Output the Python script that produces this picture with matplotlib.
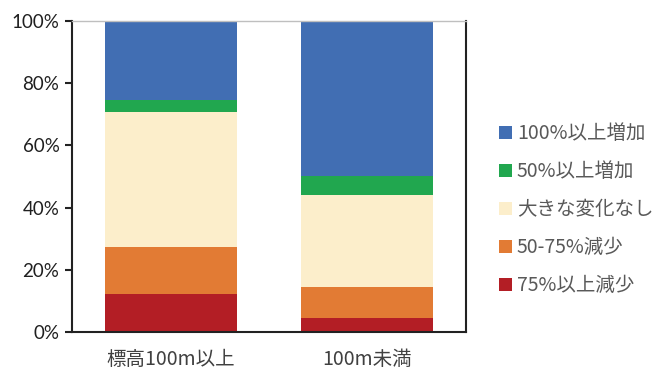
import matplotlib
matplotlib.use("Agg")
import matplotlib.pyplot as plt
from matplotlib.ticker import PercentFormatter

plt.rcParams['font.family'] = ['Noto Sans CJK JP', 'DejaVu Sans']

categories = ["標高100m以上", "100m未満"]
series_names = ["75%以上減少", "50-75%減少", "大きな変化なし", "50%以上増加", "100%以上増加"]
colors = ["#B31E25", "#E27B34", "#FCEECB", "#21A74F", "#416EB3"]

# shares (%) per category, bottom to top
decline_75 = [12.1, 4.6]
decline_50_75 = [15.2, 9.8]
no_change = [43.4, 29.7]
increase_50 = [3.9, 6.1]
increase_100 = [25.4, 49.8]
values = [decline_75, decline_50_75, no_change, increase_50, increase_100]

fig = plt.figure(figsize=(6.6, 3.69), dpi=100)
ax = fig.add_axes([0.109, 0.100, 0.597, 0.844])

x = range(len(categories))
bottom = [0.0] * len(categories)
handles = []
for name, vals, c in zip(series_names, values, colors):
    h = ax.bar(x, vals, width=0.673, bottom=bottom, color=c, label=name)
    handles.append(h)
    bottom = [b + v for b, v in zip(bottom, vals)]

ax.set_xlim(-0.505, 1.505)
ax.set_ylim(0, 100)
ax.set_yticks(range(0, 101, 20))
ax.yaxis.set_major_formatter(PercentFormatter(decimals=0))
for lab in ax.get_yticklabels():
    lab.set_family(['Lato', 'Noto Sans CJK JP'])
ax.set_xticks(list(x))
ax.set_xticklabels(categories)
ax.tick_params(axis='x', length=0, pad=12, labelsize=14, labelcolor='#404040')
ax.tick_params(axis='y', length=5, width=1.5, pad=4, labelsize=13.5,
               labelcolor='#202020', color='#222222')
for side in ['left', 'bottom', 'right']:
    ax.spines[side].set_color('#222222')
    ax.spines[side].set_linewidth(1.5)
ax.spines['top'].set_color('#BFBFBF')
ax.spines['top'].set_linewidth(1.0)

leg = fig.legend(handles[::-1], series_names[::-1], loc='upper left',
                 bbox_to_anchor=(0.745, 0.688), frameon=False, fontsize=14,
                 handlelength=0.65, handleheight=0.65, handletextpad=0.25,
                 labelspacing=0.88, borderaxespad=0)
for t in leg.get_texts():
    t.set_color('#595959')

fig.savefig("out.png", dpi=100)
